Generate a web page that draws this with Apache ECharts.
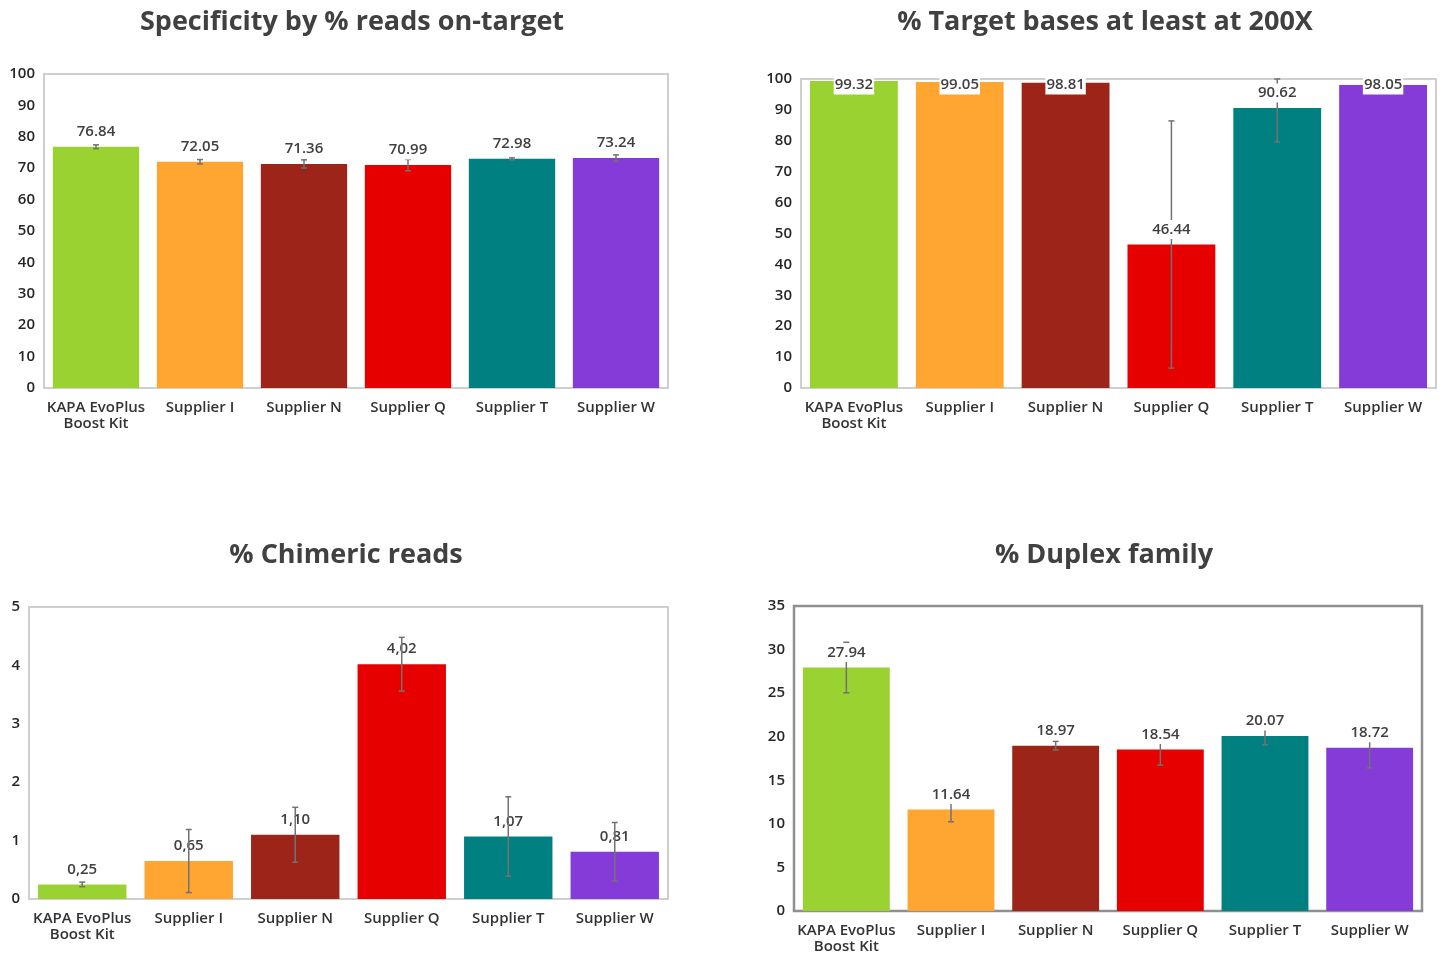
<!DOCTYPE html>
<html>
<head>
<meta charset="utf-8">
<script src="https://cdn.jsdelivr.net/npm/echarts@6/dist/echarts.min.js"></script>
<style>
html,body{margin:0;padding:0;background:#fff;}
#chart{width:1444px;height:955px;}
</style>
</head>
<body>
<div id="chart"></div>
<script>
// ---- data ----
const categories = ['KAPA EvoPlus\nBoost Kit', 'Supplier I', 'Supplier N', 'Supplier Q', 'Supplier T', 'Supplier W'];
const barColors = ['#9AD232', '#FFA532', '#9C2419', '#E60000', '#008080', '#843BD7'];

const titles = ['Specificity by % reads on-target', '% Target bases at least at 200X', '% Chimeric reads', '% Duplex family'];

const specValues = [76.84, 72.05, 71.36, 70.99, 72.98, 73.24];
const specErrors = [0.6, 0.7, 1.3, 1.8, 0.3, 1.0];

const targetValues = [99.32, 99.05, 98.81, 46.44, 90.62, 98.05];
const targetErrors = [0.3, 1.4, 0.2, 40, 11, 0.5];

const chimericValues = [0.25, 0.65, 1.10, 4.02, 1.07, 0.81];
const chimericErrors = [0.04, 0.54, 0.47, 0.46, 0.68, 0.5];

const duplexValues = [27.94, 11.64, 18.97, 18.54, 20.07, 18.72];
const duplexErrors = [2.9, 1.4, 0.5, 1.8, 1.0, 2.3];

const yMaxes = [100, 100, 5, 35];
const yIntervals = [10, 10, 1, 5];

// ---- layout ----
const FONT = '"Open Sans", "Noto Sans", sans-serif';
const panels = [
  { values: specValues, errors: specErrors, grid: {left: 44, top: 74, width: 624, height: 314}, titleX: 347, titleY: 4, border: '#cfcfcf', bw: 2, comma: false, labelBg: true },
  { values: targetValues, errors: targetErrors, grid: {left: 801, top: 79, width: 635, height: 309}, titleX: 1100, titleY: 4, border: '#cfcfcf', bw: 2, comma: false, labelBg: true },
  { values: chimericValues, errors: chimericErrors, grid: {left: 29, top: 607, width: 639, height: 292}, titleX: 341, titleY: 537, border: '#cfcfcf', bw: 2, comma: true, labelBg: false },
  { values: duplexValues, errors: duplexErrors, grid: {left: 794, top: 606, width: 628, height: 308}, titleX: 1099, titleY: 537, border: '#8f8f8f', bw: 2.5, comma: false, labelBg: true }
];

const option = {
  animation: false,
  backgroundColor: '#fff',
  title: [], grid: [], xAxis: [], yAxis: [], series: []
};

panels.forEach((p, k) => {
  option.title.push({
    text: titles[k], left: p.titleX, top: p.titleY, textAlign: 'center',
    textStyle: { fontFamily: FONT, fontSize: 27, fontWeight: 700, color: '#404040' }
  });
  option.grid.push(Object.assign({ show: true, borderColor: p.border, borderWidth: p.bw, backgroundColor: '#fff' }, p.grid));
  option.xAxis.push({
    type: 'category', gridIndex: k, data: categories,
    axisLine: { show: false }, axisTick: { show: false },
    axisLabel: { interval: 0, margin: 12, fontFamily: FONT, fontSize: 15, fontWeight: 600, color: '#333', lineHeight: 16 }
  });
  option.yAxis.push({
    type: 'value', gridIndex: k, min: 0, max: yMaxes[k], interval: yIntervals[k],
    splitLine: { show: false }, axisLine: { show: false }, axisTick: { show: false },
    axisLabel: { margin: 9, fontFamily: FONT, fontSize: 15, fontWeight: 600, color: '#262626' }
  });
  option.series.push({
    type: 'bar', xAxisIndex: k, yAxisIndex: k, barCategoryGap: '17%', z: 2,
    data: p.values.map((v, i) => ({ value: v, itemStyle: { color: barColors[i] } }))
  });
  const yMax = yMaxes[k];
  option.series.push({
    type: 'custom', xAxisIndex: k, yAxisIndex: k, z: 3, clip: false,
    data: p.values.map((v, i) => [i, v, p.errors[i]]),
    encode: { x: 0, y: 1 },
    renderItem: function (params, api) {
      const i = api.value(0), v = api.value(1), e = api.value(2);
      const c = api.coord([i, v]);
      const hi = api.coord([i, Math.min(yMax, v + e)]);
      const lo = api.coord([i, Math.max(0, v - e)]);
      const topY = api.coord([i, yMax])[1];
      const x = c[0];
      const stroke = { stroke: '#727272', lineWidth: 1.5 };
      const lines = [
        { type: 'line', shape: { x1: x, y1: hi[1], x2: x, y2: lo[1] }, style: stroke },
        { type: 'line', shape: { x1: x - 3, y1: hi[1], x2: x + 3, y2: hi[1] }, style: stroke },
        { type: 'line', shape: { x1: x - 3, y1: lo[1], x2: x + 3, y2: lo[1] }, style: stroke }
      ];
      let txt = v.toFixed(2);
      if (p.comma) txt = txt.replace('.', ',');
      const ty = Math.max(c[1] - 15, topY + 6);
      const label = {
        type: 'text', x: x, y: ty,
        style: {
          text: txt, align: 'center', verticalAlign: 'middle',
          fontFamily: FONT, fontSize: 15, fontWeight: 600, fill: '#404040',
          backgroundColor: p.labelBg ? '#ffffff' : null, padding: p.labelBg ? [2, 1] : 0
        }
      };
      const children = p.labelBg ? lines.concat([label]) : [label].concat(lines);
      return { type: 'group', children: children };
    }
  });
});

const chart = echarts.init(document.getElementById('chart'), null, { renderer: 'canvas' });
chart.setOption(option);
</script>
</body>
</html>
